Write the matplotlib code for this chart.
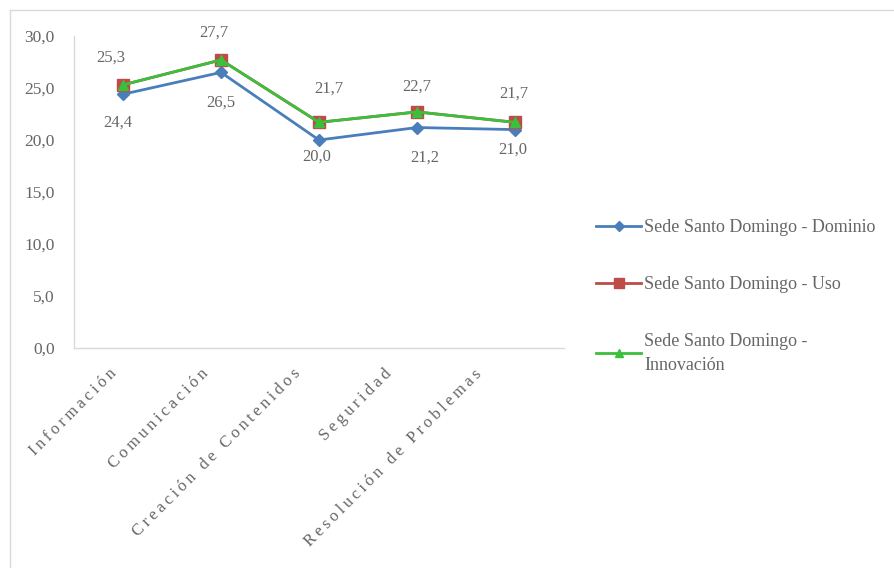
import matplotlib
matplotlib.use("Agg")
import matplotlib.pyplot as plt
from matplotlib.lines import Line2D
from matplotlib.transforms import ScaledTranslation

categorias = ["Información", "Comunicación", "Creación de Contenidos",
              "Seguridad", "Resolución de Problemas"]
dominio = [24.4, 26.5, 20.0, 21.2, 21.0]
uso = [25.3, 27.7, 21.7, 22.7, 21.7]
innovacion = [25.3, 27.7, 21.7, 22.7, 21.7]
series_nombres = ["Sede Santo Domingo - Dominio",
                  "Sede Santo Domingo - Uso",
                  "Sede Santo Domingo -\nInnovación"]
y_ticks = [0, 5, 10, 15, 20, 25, 30]

# desplazamientos (px) de las etiquetas de datos y de categorías
desp_inf = [(-5, -28), (0, -30), (-2, -17), (8, -30), (-2, -20)]
desp_sup = [(-12, 27), (-7, 27), (10, 34), (0, 25), (-1, 29)]
desp_cat = [-9, -15, -21, -28, -36]

plt.rcParams["font.family"] = ["Liberation Serif", "DejaVu Serif"]
gris = "#666666"

fig = plt.figure(figsize=(8.95, 5.68), dpi=100)
W, H = 895, 568
ax = fig.add_axes([74 / W, (H - 348) / H, (564 - 74) / W, (348 - 36) / H])

x = list(range(len(categorias)))
ax.plot(x, dominio, color="#4a7ebb", lw=2, marker="D", ms=6,
        label=series_nombres[0], zorder=3)
ax.plot(x, uso, color="#be4b48", lw=2, marker="s", ms=9,
        label=series_nombres[1], zorder=4)
ax.plot(x, innovacion, color="#3cbf3c", lw=2, marker="^", ms=7,
        label=series_nombres[2], zorder=5)

fmt = lambda v: f"{v:.1f}".replace(".", ",")
px = 72 / 100  # puntos por píxel a 100 dpi
for xi, v, (dx, dy) in zip(x, dominio, desp_inf):
    ax.annotate(fmt(v), (xi, v), xytext=(dx * px, dy * px), textcoords="offset points",
                ha="center", va="center", fontsize=12, color=gris)
for xi, v, (dx, dy) in zip(x, innovacion, desp_sup):
    ax.annotate(fmt(v), (xi, v), xytext=(dx * px, dy * px), textcoords="offset points",
                ha="center", va="center", fontsize=12, color=gris)

ax.set_xlim(-0.5, len(categorias) - 0.5)
ax.set_ylim(0, 30)
ax.set_yticks(y_ticks)
ax.set_yticklabels([fmt(v) for v in y_ticks], fontsize=12.5, color=gris)
ax.set_xticks(x)
espaciado = ["\u2009".join(c) for c in categorias]
ax.set_xticklabels(espaciado, rotation=45, ha="right", va="center",
                   rotation_mode="anchor", fontsize=12, color=gris)
ax.tick_params(axis="y", length=0, pad=14)
ax.tick_params(axis="x", length=0, pad=17)
for lab, d in zip(ax.get_xticklabels(), desp_cat):
    lab.set_transform(lab.get_transform() + ScaledTranslation(d / 100, 0, fig.dpi_scale_trans))
for s in ("top", "right"):
    ax.spines[s].set_visible(False)
for s in ("left", "bottom"):
    ax.spines[s].set_color("#d9d9d9")
    ax.spines[s].set_linewidth(1)

handles, labels = ax.get_legend_handles_labels()
leg = fig.legend(handles, labels, loc="upper left",
                 bbox_to_anchor=(580 / W, 1 - 203 / H), frameon=False,
                 fontsize=13, labelcolor=gris, handlelength=2.5,
                 handletextpad=0.15, labelspacing=2.2, markerscale=0.8)
leg.get_texts()[2].set_linespacing(1.55)

# marco exterior del gráfico
fig.add_artist(Line2D([10 / W, 10 / W], [0, 1 - 10 / H], transform=fig.transFigure,
                      color="#d9d9d9", lw=1))
fig.add_artist(Line2D([10 / W, 1], [1 - 10 / H, 1 - 10 / H], transform=fig.transFigure,
                      color="#d9d9d9", lw=1))

fig.savefig("out.png", dpi=100)
